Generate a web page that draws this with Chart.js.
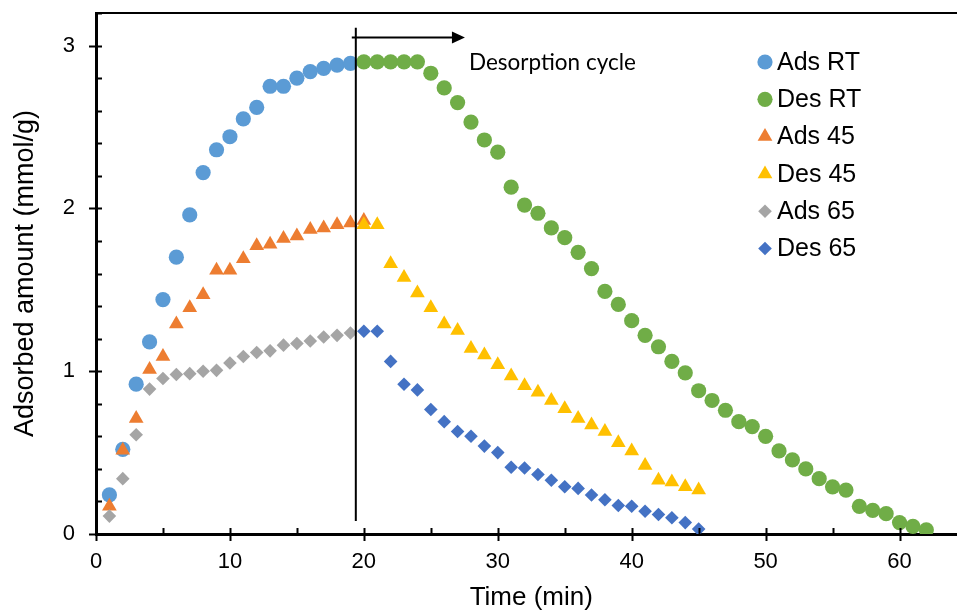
<!DOCTYPE html>
<html>
<head>
<meta charset="utf-8">
<script src="https://cdn.jsdelivr.net/npm/chart.js@4.4.1/dist/chart.umd.min.js"></script>
<style>
  html, body { margin: 0; padding: 0; background: #fff; overflow: hidden; }
  #wrap { width: 975px; height: 611px; }
</style>
</head>
<body>
<div id="wrap"><canvas id="myChart" width="975" height="611"></canvas></div>
<script>
// Time (min) and adsorbed amount (mmol/g) for each run
const adsRtTime = [1, 2, 3, 4, 5, 6, 7, 8, 9, 10, 11, 12, 13, 14, 15, 16, 17, 18, 19];
const adsRtValues = [0.24, 0.52, 0.92, 1.18, 1.44, 1.70, 1.96, 2.22, 2.36, 2.44, 2.55, 2.62, 2.75, 2.75, 2.80, 2.84, 2.86, 2.88, 2.89];

const desRtTime = [20, 21, 22, 23, 24, 25, 26, 27, 28, 29, 30, 31, 32, 33, 34, 35, 36, 37, 38, 39, 40,
  41, 42, 43, 44, 45, 46, 47, 48, 49, 50, 51, 52, 53, 54, 55, 56, 57, 58, 59, 60, 61, 62];
const desRtValues = [2.90, 2.90, 2.90, 2.90, 2.90, 2.83, 2.74, 2.65, 2.53, 2.42, 2.345,
  2.13, 2.02, 1.97, 1.88, 1.82, 1.73, 1.63, 1.49, 1.41, 1.31,
  1.22, 1.15, 1.06, 0.99, 0.88, 0.82, 0.76, 0.69, 0.66, 0.60,
  0.51, 0.455, 0.40, 0.34, 0.29, 0.27, 0.17, 0.145, 0.125, 0.07, 0.047, 0.026];

const ads45Time = [1, 2, 3, 4, 5, 6, 7, 8, 9, 10, 11, 12, 13, 14, 15, 16, 17, 18, 19, 20];
const ads45Values = [0.17, 0.515, 0.71, 1.01, 1.09, 1.29, 1.39, 1.47, 1.62, 1.62, 1.69, 1.77, 1.78, 1.815, 1.83, 1.87, 1.88, 1.90, 1.91, 1.925];

const des45Time = [20, 21, 22, 23, 24, 25, 26, 27, 28, 29, 30, 31, 32, 33, 34, 35, 36, 37, 38, 39, 40, 41, 42, 43, 44, 45];
const des45Values = [1.90, 1.90, 1.66, 1.575, 1.48, 1.39, 1.29, 1.25, 1.14, 1.10, 1.04, 0.97, 0.91, 0.87, 0.82,
  0.77, 0.71, 0.67, 0.63, 0.56, 0.51, 0.42, 0.33, 0.32, 0.29, 0.27];

const ads65Time = [1, 2, 3, 4, 5, 6, 7, 8, 9, 10, 11, 12, 13, 14, 15, 16, 17, 18, 19];
const ads65Values = [0.11, 0.34, 0.61, 0.89, 0.955, 0.98, 0.985, 1.0, 1.005, 1.05, 1.09, 1.115, 1.125, 1.16, 1.17, 1.185, 1.21, 1.22, 1.235];

const des65Time = [20, 21, 22, 23, 24, 25, 26, 27, 28, 29, 30, 31, 32, 33, 34, 35, 36, 37, 38, 39, 40, 41, 42, 43, 44, 45];
const des65Values = [1.245, 1.245, 1.06, 0.92, 0.885, 0.765, 0.69, 0.63, 0.60, 0.54,
  0.50, 0.41, 0.405, 0.365, 0.33, 0.29, 0.28, 0.24, 0.21, 0.175,
  0.17, 0.14, 0.12, 0.10, 0.07, 0.03];

const seriesNames = ["Ads RT", "Des RT", "Ads 45", "Des 45", "Ads 65", "Des 65"];
const xTickValues = [0, 10, 20, 30, 40, 50, 60];
const yTickValues = [0, 1, 2, 3];

const AXIS_FONT = "'Liberation Sans', Arial, sans-serif";

function toPoints(times, values) {
  return times.map((t, i) => ({ x: t, y: values[i] }));
}

function makeSeries(index, times, values, color, style, radius) {
  return {
    label: seriesNames[index],
    data: toPoints(times, values),
    backgroundColor: color,
    borderColor: color,
    borderWidth: 0,
    pointStyle: style,
    pointRadius: radius,
    pointHoverRadius: radius,
    showLine: false,
    order: 10 - index, // later series sit on top, like the original
  };
}

// no extra edge padding for the end tick labels
function clearScalePadding(scale) {
  scale.paddingTop = 0;
  scale.paddingBottom = 0;
  scale.paddingLeft = 0;
  scale.paddingRight = 0;
}

// vertical marker, arrow and note for the desorption start
const cycleMarker = {
  id: "cycleMarker",
  afterDatasetsDraw(chart) {
    const { ctx, scales: { x, y } } = chart;
    const lineX = x.getPixelForValue(19.4);
    ctx.save();
    ctx.strokeStyle = "#000";
    ctx.lineWidth = 2;
    ctx.beginPath();
    ctx.moveTo(lineX, y.getPixelForValue(3.11));
    ctx.lineTo(lineX, y.getPixelForValue(0.08));
    ctx.stroke();

    const ay = y.getPixelForValue(3.05);
    const ax0 = x.getPixelForValue(19.1);
    const ax1 = x.getPixelForValue(27.55);
    ctx.beginPath();
    ctx.moveTo(ax0, ay);
    ctx.lineTo(ax1 - 10, ay);
    ctx.stroke();
    ctx.fillStyle = "#000";
    ctx.beginPath();
    ctx.moveTo(ax1, ay);
    ctx.lineTo(ax1 - 13, ay - 6);
    ctx.lineTo(ax1 - 13, ay + 6);
    ctx.closePath();
    ctx.fill();

    ctx.font = "22.5px Lato, 'Open Sans', sans-serif";
    ctx.textAlign = "left";
    ctx.textBaseline = "alphabetic";
    ctx.fillText("Desorption cycle", x.getPixelForValue(27.85), y.getPixelForValue(2.85));
    ctx.restore();
  },
};

// top frame line and tick marks (major cross the axis, minor sit inside)
const frameTicks = {
  id: "frameTicks",
  afterDraw(chart) {
    const { ctx, chartArea: area, scales: { x, y } } = chart;
    ctx.save();
    ctx.strokeStyle = "#000";
    ctx.lineWidth = 2;
    ctx.beginPath();
    ctx.moveTo(area.left, area.top);
    ctx.lineTo(area.right, area.top);
    ctx.stroke();

    ctx.beginPath();
    for (let v = 0; v <= 65; v += 5) {
      const px = Math.round(x.getPixelForValue(v)) + 0.5;
      const major = v % 10 === 0;
      ctx.moveTo(px, area.bottom - 6);
      ctx.lineTo(px, major ? area.bottom + 7 : area.bottom);
    }
    for (let i = 0; i <= 16; i++) {
      const v = i * 0.2;
      const py = Math.round(y.getPixelForValue(v)) + 0.5;
      const major = i % 5 === 0;
      ctx.moveTo(major ? area.left - 7 : area.left, py);
      ctx.lineTo(area.left + 6, py);
    }
    ctx.stroke();
    ctx.restore();
  },
};

// legend inside the plot, one marker + label per row
const insideLegend = {
  id: "insideLegend",
  afterDraw(chart) {
    const { ctx, chartArea: area } = chart;
    const markerX = area.left + 669;
    const textX = area.left + 681;
    const firstRow = area.top + 49;
    const rowGap = 37.3;
    ctx.save();
    ctx.font = "25px " + AXIS_FONT;
    ctx.textAlign = "left";
    ctx.textBaseline = "middle";
    chart.data.datasets.forEach((ds, i) => {
      const rowY = firstRow + i * rowGap;
      ctx.fillStyle = ds.backgroundColor;
      Chart.helpers.drawPoint(ctx, {
        pointStyle: ds.pointStyle,
        radius: ds.pointRadius,
        borderWidth: 0,
        rotation: 0,
      }, markerX, rowY);
      ctx.fillStyle = "#000";
      ctx.fillText(ds.label, textX, rowY + 1);
    });
    ctx.restore();
  },
};

class AdsorptionChart {
  static getConfig() {
    return {
      type: "scatter",
      data: {
        datasets: [
          makeSeries(0, adsRtTime, adsRtValues, "#5B9BD5", "circle", 7.6),
          makeSeries(1, desRtTime, desRtValues, "#70AD47", "circle", 7.6),
          makeSeries(2, ads45Time, ads45Values, "#ED7D31", "triangle", 8.5),
          makeSeries(3, des45Time, des45Values, "#FFC000", "triangle", 8.5),
          makeSeries(4, ads65Time, ads65Values, "#A5A5A5", "rectRot", 6.8),
          makeSeries(5, des65Time, des65Values, "#4472C4", "rectRot", 6.8),
        ],
      },
      options: {
        responsive: false,
        animation: false,
        layout: { padding: { top: 13, right: 7, left: 0, bottom: 0 } },
        plugins: {
          legend: { display: false },
          tooltip: { enabled: false },
        },
        scales: {
          x: {
            type: "linear",
            min: 0,
            max: 65,
            afterBuildTicks: (scale) => { scale.ticks = xTickValues.map((v) => ({ value: v })); },
            afterFit: (scale) => { scale.height = 77; clearScalePadding(scale); },
            grid: { display: false, drawTicks: false },
            border: { display: true, color: "#000", width: 3 },
            ticks: { color: "#000", padding: 15, maxRotation: 0, font: { family: AXIS_FONT, size: 22 } },
            title: {
              display: true,
              text: "Time (min)",
              color: "#000",
              padding: { top: 0, bottom: 0 },
              font: { family: AXIS_FONT, size: 26, lineHeight: 1.0 },
            },
          },
          y: {
            type: "linear",
            min: 0,
            max: 3.2,
            afterBuildTicks: (scale) => { scale.ticks = yTickValues.map((v) => ({ value: v })); },
            afterFit: (scale) => { scale.width = 96; clearScalePadding(scale); },
            grid: { display: false, drawTicks: false },
            border: { display: true, color: "#000", width: 3 },
            ticks: { color: "#000", padding: 21, font: { family: AXIS_FONT, size: 22 } },
            title: {
              display: true,
              text: "Adsorbed amount (mmol/g)",
              color: "#000",
              padding: { top: 9, bottom: 0 },
              font: { family: AXIS_FONT, size: 27, lineHeight: 1.2 },
            },
          },
        },
      },
      plugins: [cycleMarker, frameTicks, insideLegend],
    };
  }
}

document.addEventListener("DOMContentLoaded", function () {
  const ctx = document.getElementById("myChart").getContext("2d");
  new Chart(ctx, AdsorptionChart.getConfig());
});
</script>
</body>
</html>
